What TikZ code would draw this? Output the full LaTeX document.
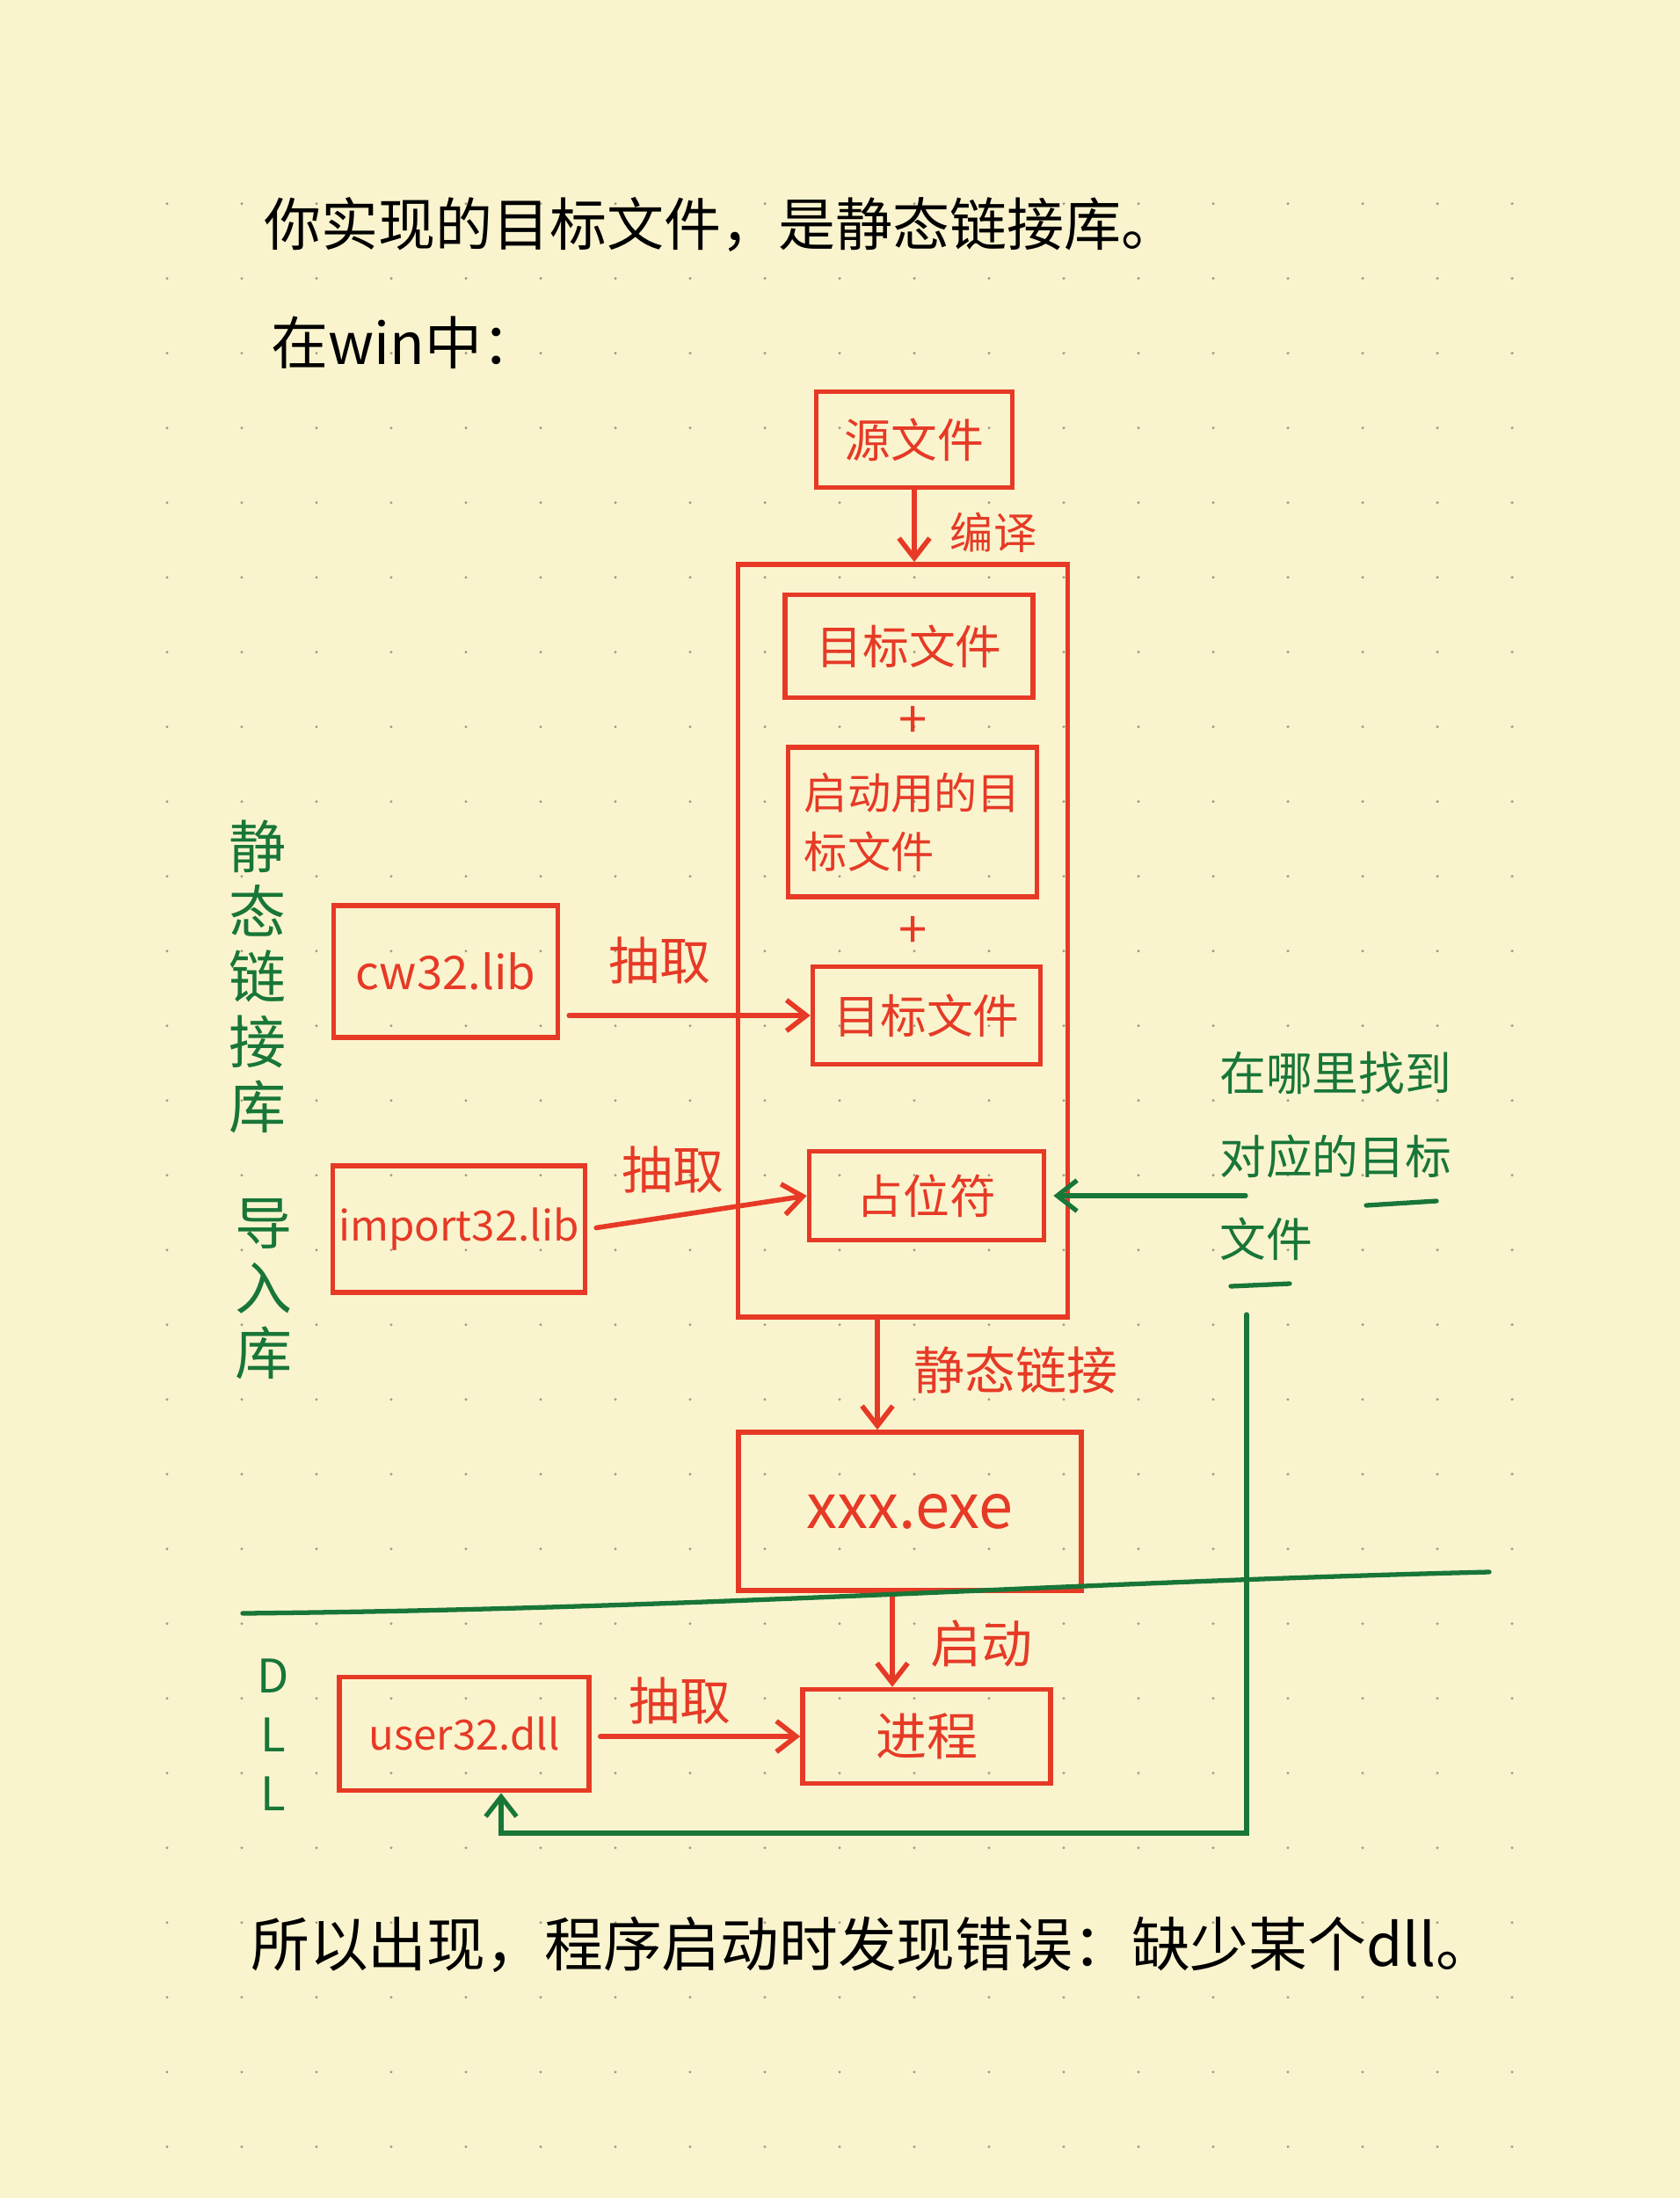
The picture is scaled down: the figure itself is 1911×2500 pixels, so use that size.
\documentclass[tikz,border=0pt]{standalone}
\usepackage{fontspec}
\newfontfamily\cjk{Noto Sans CJK SC}
\usetikzlibrary{arrows.meta,calc}
\definecolor{paper}{RGB}{250,244,206}
\definecolor{redc}{RGB}{230,58,38}
\definecolor{greenc}{RGB}{24,118,56}
\definecolor{dotc}{RGB}{160,155,130}
\newcommand{\pxu}{0.2mm}
\tikzset{
  redbox/.style={draw=redc, line width=3.2pt, inner sep=0pt, text=redc, align=center,
    font=\cjk\fontsize{30}{36}\selectfont},
  redframe/.style={draw=redc, line width=3.2pt, inner sep=0pt},
  redlabel/.style={text=redc, inner sep=0pt, font=\cjk\fontsize{33}{40}\selectfont},
  rarrow/.style={draw=redc, line width=3.2pt, line cap=round,
    -{Straight Barb[length=4.5mm,width=7mm,line width=3.2pt]}},
  gnote/.style={text=greenc, inner sep=0pt, align=left, font=\cjk\fontsize{30}{54}\selectfont},
  gvert/.style={text=greenc, inner sep=0pt, align=center, font=\cjk\fontsize{37}{42}\selectfont},
  gline/.style={draw=greenc, line width=3pt, line cap=round},
  garrow/.style={draw=greenc, line width=3pt, line cap=round,
    -{Straight Barb[length=4.5mm,width=7mm,line width=3pt]}},
  btext/.style={text=black, inner sep=0pt, font=\cjk\fontsize{37}{44}\selectfont},
}
\begin{document}
\begin{tikzpicture}[x=0.2mm,y=-0.2mm]
\fill[paper] (0,0) rectangle (1911,2500);
\useasboundingbox (0,0) rectangle (1911,2500);
% dot grid
\foreach \i in {2,...,20} {
  \foreach \j in {2,...,28} {
    \fill[dotc] (20+85*\i, 61.7+85*\j) circle[radius=0.34mm];
  }
}
% black text
\node[btext, anchor=west] (title) at (300,255) {你实现的目标文件，是静态链接库。};
\node[btext, anchor=west] (line2) at (308,390) {在win中：};
\node[btext, font=\cjk\fontsize{38}{44}\selectfont, anchor=west] (concl) at (285,2212) {所以出现，程序启动时发现错误：缺少某个dll。};

% red boxes
\node[redbox, minimum width=223*\pxu, minimum height=109*\pxu] (src) at (1040,500) {源文件};
\node[redframe, minimum width=375*\pxu, minimum height=856*\pxu] (stack) at (1027,1070) {};
\node[redbox, minimum width=282*\pxu, minimum height=117*\pxu] (obj1) at (1034,735) {目标文件};
\node[redlabel] (plus1) at (1039,821) {+};
\node[redbox, align=left, font=\cjk\fontsize{28}{38}\selectfont,
      minimum width=283*\pxu, minimum height=170*\pxu] (startobj) at (1038,935) {启动用的目\\标文件};
\node[redlabel] (plus2) at (1039,1060) {+};
\node[redbox, minimum width=259*\pxu, minimum height=111*\pxu] (obj2) at (1054,1155) {目标文件};
\node[redbox, minimum width=267*\pxu, minimum height=101*\pxu] (ph) at (1054,1360) {占位符};
\node[redbox, minimum width=255*\pxu, minimum height=150*\pxu] (cw32) at (507,1105) {cw32.lib};
\node[redbox, font=\cjk\fontsize{27}{32}\selectfont,
      minimum width=287*\pxu, minimum height=144*\pxu] (imp) at (522,1398) {import32.lib};
\node[redbox, font=\cjk\fontsize{40}{46}\selectfont,
      minimum width=390*\pxu, minimum height=180*\pxu] (exe) at (1035,1719) {xxx.exe};
\node[redbox, font=\cjk\fontsize{33}{40}\selectfont,
      minimum width=282*\pxu, minimum height=107*\pxu] (proc) at (1054,1975) {进程};
\node[redbox, font=\cjk\fontsize{27}{32}\selectfont,
      minimum width=284*\pxu, minimum height=129*\pxu] (user) at (528,1972) {user32.dll};

% red labels
\node[redlabel, font=\cjk\fontsize{28}{34}\selectfont] (lblcompile) at (1130,606) {编译};
\node[redlabel] (lblx1) at (750,1092) {抽取};
\node[redlabel] (lblx2) at (765,1330) {抽取};
\node[redlabel] (lbllink) at (1155,1558) {静态链接};
\node[redlabel] (lblstart) at (1116,1869) {启动};
\node[redlabel] (lblx3) at (773,1934) {抽取};

% red arrows
\draw[rarrow] (src.south) -- (src.south |- stack.north);
\draw[rarrow, shorten <=10*\pxu] (cw32.east |- obj2.west) -- (obj2.west);
\draw[rarrow, shorten <=10*\pxu] (imp.east) -- (ph.west);
\coordinate (lx) at (998,0);
\draw[rarrow] (stack.south -| lx) -- (exe.north -| lx);
\coordinate (sx) at (1015,0);
\draw[rarrow] (exe.south -| sx) -- (proc.north -| sx);
\draw[rarrow, shorten <=10*\pxu] (user.east |- proc.west) -- (proc.west);

% green labels
\node[gvert] (lblstatic) at (293,1111) {静\\态\\链\\接\\库};
\node[gvert] (lblimport) at (300,1466) {导\\入\\库};
\node[gvert, font=\cjk\fontsize{30}{38}\selectfont] (lbldll) at (311,1973) {D\\L\\L};
\node[gnote, anchor=west] (note) at (1387,1315) {在哪里找到\\对应的目标\\文件};
\draw[gline] (1554,1371) -- (1634,1366);
\draw[gline] (1400,1463) -- (1467,1460);

% green connectors
\draw[garrow, shorten <=-30*\pxu, shorten >=8*\pxu] (note.west |- ph.east) -- (ph.east);
\coordinate (gstart) at (1418,1495);
\coordinate (gcorner) at (570,2085);
\draw[garrow] (gstart) |- (gcorner) -- (gcorner |- user.south);

% separator
\draw[gline] (276,1835) .. controls (800,1830) and (1200,1800) .. (1694,1788);
\end{tikzpicture}
\end{document}
